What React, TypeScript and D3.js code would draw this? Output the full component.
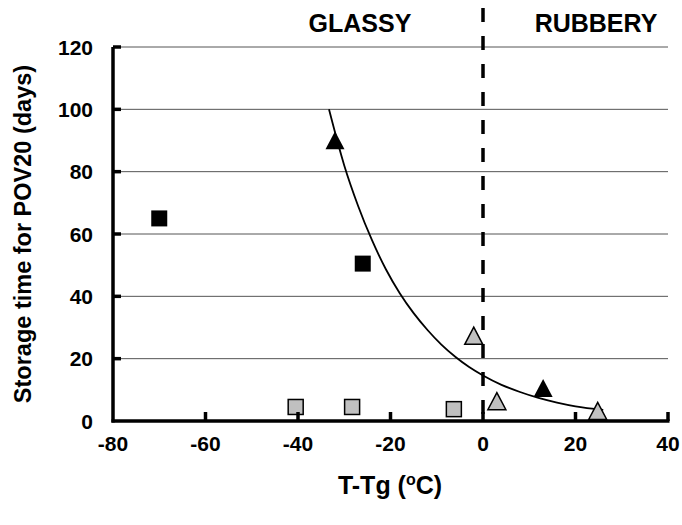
import React from "react";
import * as d3 from "d3";

const blackSquareX = [-70, -26];
const blackSquareY = [65, 50.5];
const blackTriX = [-32, 13];
const blackTriY = [89.5, 10];
const graySquareX = [-40.5, -28.3, -6.3];
const graySquareY = [4.5, 4.5, 3.8];
const grayTriX = [-2, 3, 24.8];
const grayTriY = [26.8, 5.8, 2.7];
const curveX = [-33.3, -30, -27, -24, -21, -18, -15, -12, -9, -6, -3, 0, 4, 8, 12, 16, 20, 26];
const curveY = [100, 82, 69, 58, 48.7, 41, 34.6, 29.2, 24.5, 20.6, 17.3, 14.6, 11.6, 9.3, 7.4, 5.9, 4.7, 3.6];
const xTicks = [-80, -60, -40, -20, 0, 20, 40];
const yTicks = [0, 20, 40, 60, 80, 100, 120];

const W = 682;
const H = 525;
const FONT = "'Liberation Sans', Arial, sans-serif";

export default function App() {
  const x = d3.scaleLinear().domain([-80, 40]).range([113, 668]);
  const y = d3.scaleLinear().domain([0, 120]).range([421, 47]);
  const line = d3
    .line<number>()
    .x((_, i) => x(curveX[i]))
    .y((_, i) => y(curveY[i]))
    .curve(d3.curveMonotoneX);
  const tri = (cx: number, cy: number, s: number) => {
    const h = s * 0.95;
    return `M${cx},${cy - h * 0.6}L${cx + s / 2},${cy + h * 0.4}L${cx - s / 2},${cy + h * 0.4}Z`;
  };
  return (
    <svg width={W} height={H} style={{ position: "absolute", left: 0, top: 0, background: "#fff" }}>
      {yTicks.filter((t) => t > 0).map((t) => (
        <line key={"g" + t} x1={x(-80)} x2={x(40)} y1={y(t)} y2={y(t)} stroke="#555" strokeWidth={1} />
      ))}
      <line x1={x(0)} x2={x(0)} y1={8} y2={y(0)} stroke="#000" strokeWidth={3.5} strokeDasharray="14,14" />
      <path d={line(curveX) || ""} fill="none" stroke="#000" strokeWidth={1.8} />
      {graySquareX.map((v, i) => (
        <rect key={"gs" + i} x={x(v) - 7.5} y={y(graySquareY[i]) - 7.5} width={15} height={15} fill="#c0c0c0" stroke="#000" strokeWidth={1.5} />
      ))}
      {grayTriX.map((v, i) => (
        <path key={"gt" + i} d={tri(x(v), y(grayTriY[i]), 18)} fill="#c0c0c0" stroke="#000" strokeWidth={1.5} />
      ))}
      {blackSquareX.map((v, i) => (
        <rect key={"bs" + i} x={x(v) - 8} y={y(blackSquareY[i]) - 8} width={16} height={16} fill="#000" />
      ))}
      {blackTriX.map((v, i) => (
        <path key={"bt" + i} d={tri(x(v), y(blackTriY[i]), 19)} fill="#000" />
      ))}
      <line x1={x(-80)} x2={x(-80)} y1={y(0) + 1.5} y2={y(120)} stroke="#000" strokeWidth={3.5} />
      <line x1={x(-80) - 1.5} x2={x(40) + 1.5} y1={y(0)} y2={y(0)} stroke="#000" strokeWidth={3.5} />
      {yTicks.filter((t) => t > 0).map((t) => (
        <line key={"yt" + t} x1={x(-80)} x2={x(-80) + 8} y1={y(t)} y2={y(t)} stroke="#000" strokeWidth={3.5} />
      ))}
      {xTicks.filter((t) => t > -80).map((t) => (
        <line key={"xt" + t} x1={x(t)} x2={x(t)} y1={y(0)} y2={y(0) - 9} stroke="#000" strokeWidth={3.5} />
      ))}
      {yTicks.map((t) => (
        <text key={"yl" + t} x={93} y={y(t) + 7.5} textAnchor="end" fontFamily={FONT} fontWeight="bold" fontSize={21}>
          {t}
        </text>
      ))}
      {xTicks.map((t) => (
        <text key={"xl" + t} x={x(t)} y={451} textAnchor="middle" fontFamily={FONT} fontWeight="bold" fontSize={21}>
          {t}
        </text>
      ))}
      <text x={390} y={494} textAnchor="middle" fontFamily={FONT} fontWeight="bold" fontSize={25}>
        T-Tg (<tspan dy={-9} fontSize={16}>o</tspan>
        <tspan dy={9}>C)</tspan>
      </text>
      <text
        transform={`translate(31,${(y(0) + y(120)) / 2}) rotate(-90)`}
        textAnchor="middle"
        fontFamily={FONT}
        fontWeight="bold"
        fontSize={23.5}
      >
        Storage time for POV20 (days)
      </text>
      <text x={360} y={32} textAnchor="middle" fontFamily={FONT} fontWeight="bold" fontSize={25}>
        GLASSY
      </text>
      <text x={596} y={32} textAnchor="middle" fontFamily={FONT} fontWeight="bold" fontSize={25}>
        RUBBERY
      </text>
    </svg>
  );
}
